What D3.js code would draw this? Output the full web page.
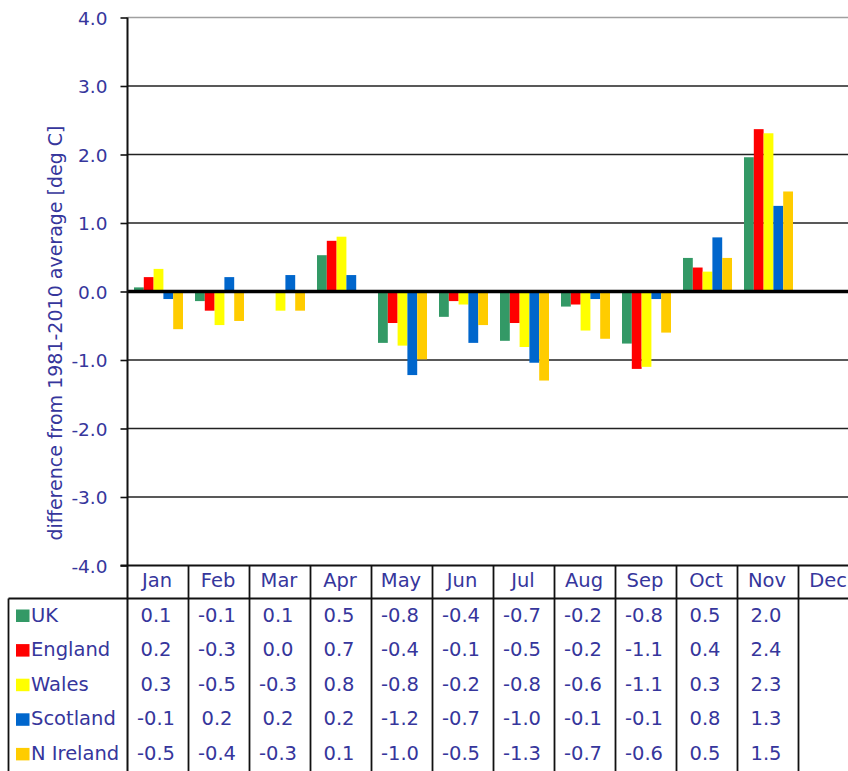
<!DOCTYPE html>
<html>
<head>
<meta charset="utf-8">
<script src="https://cdn.jsdelivr.net/npm/d3@7"></script>
<style>
    body { margin: 0; background: #fff; }
    #chart { width: 848px; height: 771px; overflow: hidden; }
    text { font-family: "DejaVu Sans", sans-serif; fill: #36369c; }
</style>
</head>
<body>
<div id="chart"></div>
<script>
// months along the x axis
const months = ["Jan", "Feb", "Mar", "Apr", "May", "Jun", "Jul", "Aug", "Sep", "Oct", "Nov", "Dec"];
const seriesNames = ["UK", "England", "Wales", "Scotland", "N Ireland"];
const seriesColors = ["#339966", "#ff0000", "#ffff00", "#0066cc", "#ffcc00"];

// bar heights (deg C), Dec not yet in
const ukBars       = [0.06, -0.14, 0.0, 0.53, -0.75, -0.37, -0.72, -0.22, -0.76, 0.49, 1.96, null];
const englandBars  = [0.21, -0.28, 0.0, 0.74, -0.46, -0.14, -0.46, -0.19, -1.13, 0.35, 2.37, null];
const walesBars    = [0.33, -0.49, -0.28, 0.80, -0.79, -0.19, -0.81, -0.57, -1.10, 0.29, 2.31, null];
const scotlandBars = [-0.11, 0.21, 0.24, 0.24, -1.22, -0.75, -1.04, -0.11, -0.11, 0.79, 1.25, null];
const nirelandBars = [-0.55, -0.43, -0.28, 0.0, -0.99, -0.49, -1.30, -0.69, -0.60, 0.49, 1.46, null];

// values printed in the data table under the chart
const ukTable       = ["0.1", "-0.1", "0.1", "0.5", "-0.8", "-0.4", "-0.7", "-0.2", "-0.8", "0.5", "2.0", ""];
const englandTable  = ["0.2", "-0.3", "0.0", "0.7", "-0.4", "-0.1", "-0.5", "-0.2", "-1.1", "0.4", "2.4", ""];
const walesTable    = ["0.3", "-0.5", "-0.3", "0.8", "-0.8", "-0.2", "-0.8", "-0.6", "-1.1", "0.3", "2.3", ""];
const scotlandTable = ["-0.1", "0.2", "0.2", "0.2", "-1.2", "-0.7", "-1.0", "-0.1", "-0.1", "0.8", "1.3", ""];
const nirelandTable = ["-0.5", "-0.4", "-0.3", "0.1", "-1.0", "-0.5", "-1.3", "-0.7", "-0.6", "0.5", "1.5", ""];

const yTicks = [-4, -3, -2, -1, 0, 1, 2, 3, 4];
const yTitle = "difference from 1981-2010 average [deg C]";

class AnomalyChart {
    constructor(parentElement) {
        this.parentElement = parentElement;
        this.bars = [ukBars, englandBars, walesBars, scotlandBars, nirelandBars];
        this.tables = [ukTable, englandTable, walesTable, scotlandTable, nirelandTable];
        this.initVis();
    }

    initVis() {
        let vis = this;

        vis.width = 848;
        vis.height = 771;
        vis.plotLeft = 127.5;
        vis.colWidth = 61;

        vis.svg = d3.select("#" + vis.parentElement).append("svg")
            .attr("width", vis.width)
            .attr("height", vis.height);

        vis.x = d3.scaleBand()
            .domain(months)
            .range([vis.plotLeft, vis.plotLeft + vis.colWidth * months.length]);

        vis.xSeries = d3.scaleBand()
            .domain(seriesNames)
            .range([6.5, 55.5]);

        vis.y = d3.scaleLinear()
            .domain([-4, 4])
            .range([565.5, 17.5]);

        vis.wrangleData();
    }

    wrangleData() {
        let vis = this;

        vis.displayData = [];
        months.forEach((m, i) => {
            seriesNames.forEach((s, j) => {
                if (vis.bars[j][i] !== null) {
                    vis.displayData.push({month: m, series: s, color: seriesColors[j], value: vis.bars[j][i]});
                }
            });
        });

        vis.updateVis();
    }

    updateVis() {
        let vis = this;
        let right = vis.x.range()[1];

        // gridlines
        vis.svg.append("g").selectAll("line")
            .data(yTicks.filter(d => d !== 0 && d !== -4))
            .join("line")
            .attr("x1", vis.plotLeft).attr("x2", right)
            .attr("y1", d => vis.y(d)).attr("y2", d => vis.y(d))
            .attr("stroke", d => d === 4 ? "#a0a0a0" : "#222")
            .attr("stroke-width", 1.6);

        // bars
        vis.svg.append("g").selectAll("rect")
            .data(vis.displayData)
            .join("rect")
            .attr("x", d => vis.x(d.month) + vis.xSeries(d.series))
            .attr("width", vis.xSeries.bandwidth())
            .attr("y", d => vis.y(Math.max(0, d.value)))
            .attr("height", d => Math.abs(vis.y(d.value) - vis.y(0)))
            .attr("fill", d => d.color);

        // zero line
        vis.svg.append("line")
            .attr("x1", vis.plotLeft).attr("x2", right)
            .attr("y1", vis.y(0)).attr("y2", vis.y(0))
            .attr("stroke", "#000")
            .attr("stroke-width", 3.4);

        // y axis
        let yAxis = d3.axisLeft(vis.y)
            .tickValues(yTicks)
            .tickSize(7)
            .tickFormat(d => d.toFixed(1));

        let axisG = vis.svg.append("g")
            .attr("transform", `translate(${vis.plotLeft},0)`)
            .call(yAxis);
        axisG.select(".domain").remove();
        axisG.selectAll(".tick line").attr("stroke", "#111").attr("stroke-width", 1.6);
        axisG.selectAll(".tick text")
            .attr("x", -20)
            .attr("dy", "0.36em")
            .attr("font-size", 18.5)
            .attr("font-family", null)
            .attr("fill", null);

        vis.svg.append("line")
            .attr("x1", vis.plotLeft).attr("x2", vis.plotLeft)
            .attr("y1", vis.y(4)).attr("y2", vis.height)
            .attr("stroke", "#111").attr("stroke-width", 2);

        vis.svg.append("text")
            .attr("transform", `translate(61.5, 333) rotate(-90)`)
            .attr("text-anchor", "middle")
            .attr("font-size", 19)
            .text(yTitle);

        // data table
        let headerTop = vis.y(-4);
        let headerBottom = 598.5;
        let rowHeight = 34.6;
        let tableLeft = 8.5;

        let table = vis.svg.append("g");

        table.append("line")
            .attr("x1", vis.plotLeft - 7).attr("x2", right)
            .attr("y1", headerTop).attr("y2", headerTop)
            .attr("stroke", "#111").attr("stroke-width", 1.8);

        table.append("line")
            .attr("x1", tableLeft).attr("x2", right)
            .attr("y1", headerBottom).attr("y2", headerBottom)
            .attr("stroke", "#111").attr("stroke-width", 1.8);

        table.append("line")
            .attr("x1", tableLeft).attr("x2", tableLeft)
            .attr("y1", headerBottom).attr("y2", vis.height)
            .attr("stroke", "#111").attr("stroke-width", 1.8);

        table.selectAll(".divider")
            .data(months)
            .join("line")
            .attr("class", "divider")
            .attr("x1", d => vis.x(d) + vis.x.bandwidth())
            .attr("x2", d => vis.x(d) + vis.x.bandwidth())
            .attr("y1", headerTop).attr("y2", vis.height)
            .attr("stroke", "#111").attr("stroke-width", 1.8);

        table.selectAll(".month")
            .data(months)
            .join("text")
            .attr("class", "month")
            .attr("x", d => vis.x(d) + vis.x.bandwidth() / 2 - 1)
            .attr("y", 587)
            .attr("text-anchor", "middle")
            .attr("font-size", 19.5)
            .text(d => d);

        seriesNames.forEach((name, j) => {
            let baseline = 621.5 + j * rowHeight;

            table.append("rect")
                .attr("x", 16).attr("y", baseline - 12)
                .attr("width", 13.5).attr("height", 12.5)
                .attr("fill", seriesColors[j]);

            table.append("text")
                .attr("x", 31)
                .attr("y", baseline)
                .attr("font-size", 19.5)
                .text(name);

            table.append("g").selectAll("text")
                .data(vis.tables[j])
                .join("text")
                .attr("x", (d, i) => vis.x(months[i]) + vis.x.bandwidth() / 2 - 2)
                .attr("y", baseline)
                .attr("text-anchor", "middle")
                .attr("font-size", 19.5)
                .text(d => d);
        });
    }
}

new AnomalyChart("chart");
</script>
</body>
</html>
